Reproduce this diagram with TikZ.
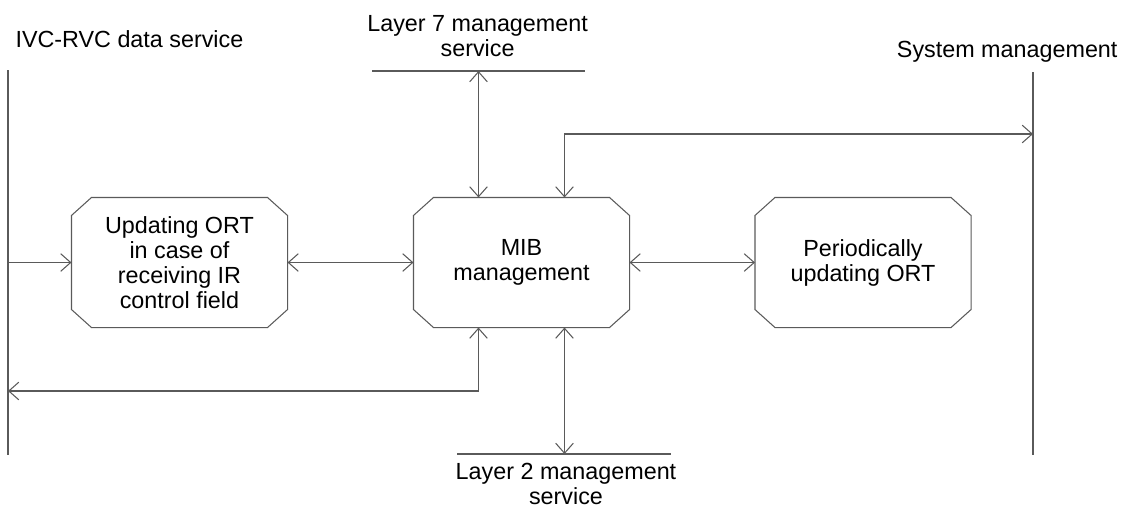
\documentclass[tikz,border=0pt]{standalone}
\usepackage{fontspec}
\setmainfont{Liberation Sans}
\usetikzlibrary{arrows.meta, calc}

\definecolor{linegray}{HTML}{5A5A5A}

\tikzset{
  proc/.style={minimum width=5.375cm, minimum height=3.225cm,
    inner sep=0pt, align=center},
  lbl/.style={inner sep=0pt, align=center},
}

\begin{document}
\begin{tikzpicture}[
    >={Straight Barb[length=2.5mm,width=4.4mm]},
    line width=0.75pt,
    font=\fontsize{16.6}{17.8}\selectfont,
]
\useasboundingbox (0,0) rectangle (28.225,-12.95);

% ---- service lines ----
\coordinate (ivcTop) at (0.2,-1.75);
\coordinate (ivcBot) at (0.2,-11.375);
\coordinate (sysTop) at (25.825,-1.8);
\coordinate (sysBot) at (25.825,-11.375);
\coordinate (l7a) at (9.3,-1.775);
\coordinate (l7b) at (14.625,-1.775);
\coordinate (l2a) at (11.425,-11.35);
\coordinate (l2b) at (16.775,-11.35);

\draw[linegray] (ivcTop) -- (ivcBot);
\draw[linegray] (sysTop) -- (sysBot);
\draw[linegray] (l7a) -- (l7b);
\draw[linegray] (l2a) -- (l2b);

\node[lbl, anchor=base west] (ivc) at (0.375,-1.175) {IVC-RVC data service};
\node[lbl, anchor=base east] (sys) at (27.95,-1.425) {System management};
\node[lbl] (l7) at (11.94,-0.91) {Layer 7 management\\service};
\node[lbl] (l2) at (14.15,-12.1) {Layer 2 management\\service};

% ---- function blocks ----
\node[proc] (ort) at (4.4875,-6.5625) {Updating ORT\\in case of\\receiving IR\\control field};
\node[proc] (mib) at (13.0375,-6.5625) {MIB\\management};
\node[proc] (per) at (21.575,-6.5625) {Periodically\\updating ORT};

% chamfered outlines
\foreach \n in {ort, mib, per} {
  \draw[linegray]
    ([xshift=0.5cm]\n.north west) -- ([xshift=-0.5cm]\n.north east)
    -- ([yshift=-0.45cm]\n.north east) -- ([yshift=0.45cm]\n.south east)
    -- ([xshift=-0.5cm]\n.south east) -- ([xshift=0.5cm]\n.south west)
    -- ([yshift=0.45cm]\n.south west) -- ([yshift=-0.45cm]\n.north west)
    -- cycle;
}

% ---- connectors ----
\coordinate (t1) at ([xshift=-1.075cm]mib.north);
\coordinate (t2) at ([xshift=1.075cm]mib.north);
\coordinate (b1) at ([xshift=-1.075cm]mib.south);
\coordinate (b2) at ([xshift=1.075cm]mib.south);
\coordinate (sysIn) at (25.825,-3.35);
\coordinate (ivcIn) at (0.2,-9.775);

\draw[linegray, ->] (ort.west -| ivcTop) -- (ort.west);
\draw[linegray, <->] (ort.east) -- (mib.west);
\draw[linegray, <->] (mib.east) -- (per.west);
\draw[linegray, <->] (t1 |- l7a) -- (t1);
\draw[linegray, <->] (t2) |- (sysIn);
\draw[linegray, <->] (b1) |- (ivcIn);
\draw[linegray, <->] (b2) -- (b2 |- l2a);

\end{tikzpicture}
\end{document}
